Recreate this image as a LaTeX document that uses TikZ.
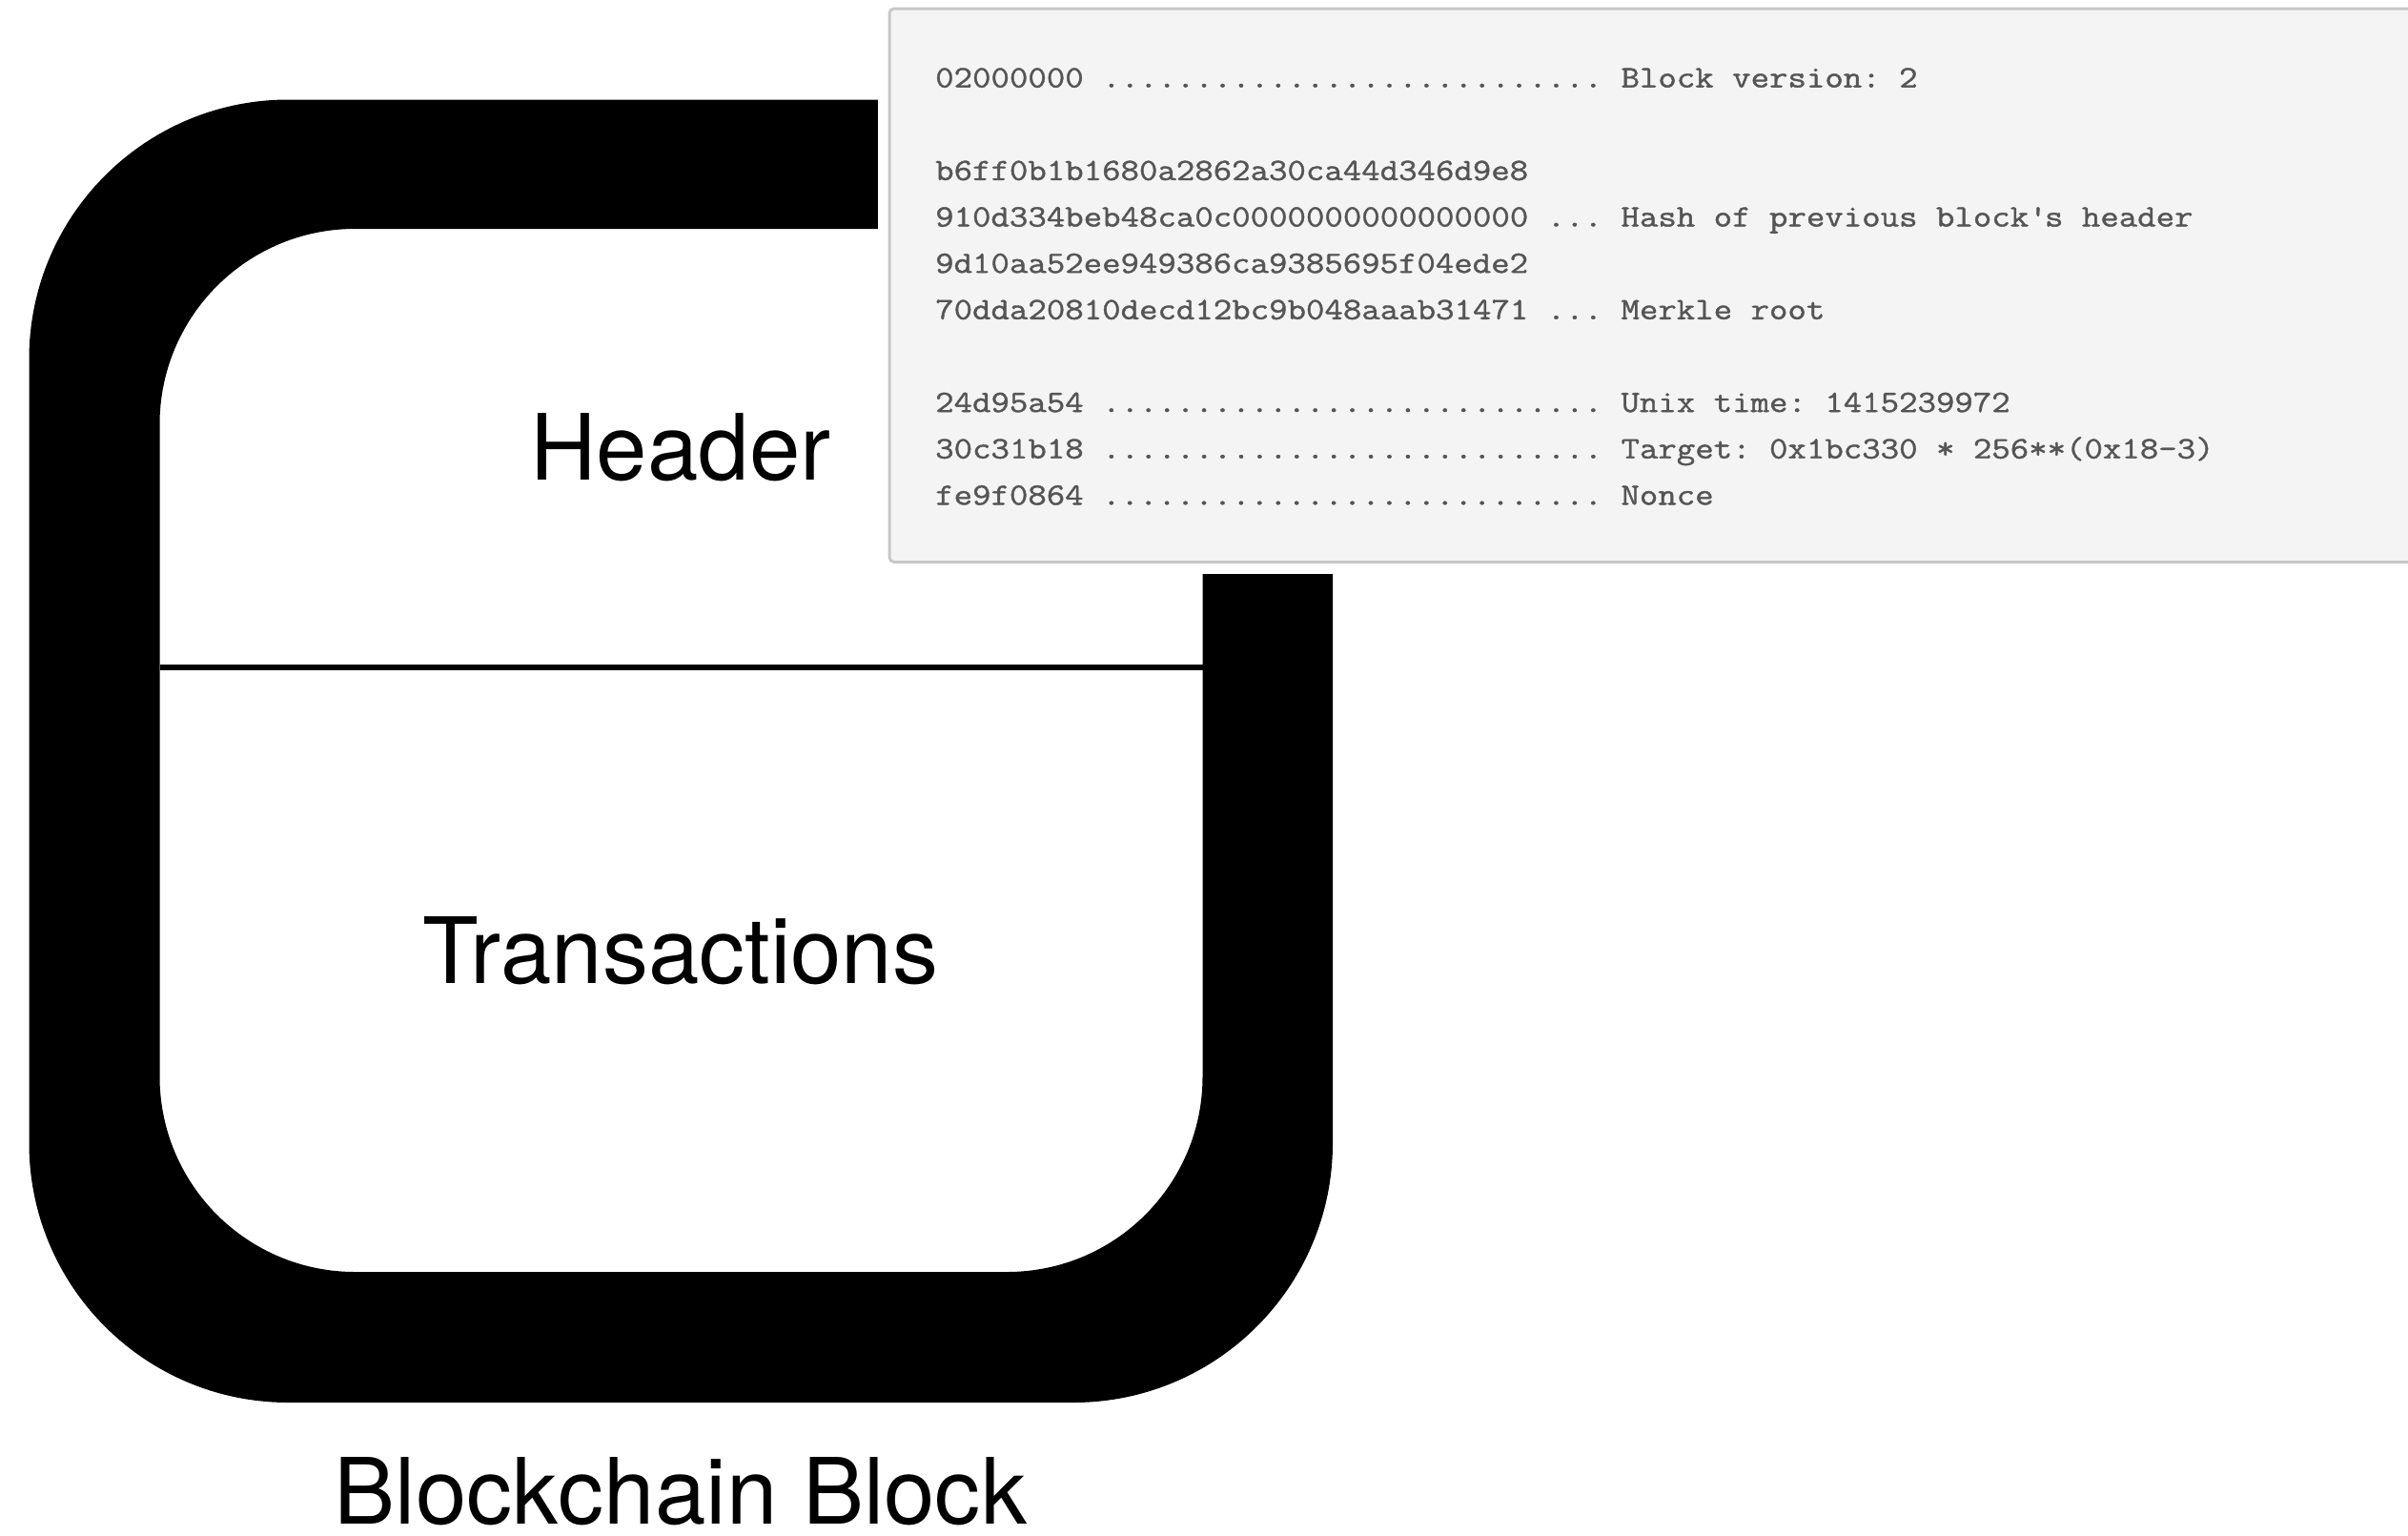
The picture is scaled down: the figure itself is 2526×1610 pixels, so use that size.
\documentclass[tikz,border=0pt]{standalone}
\usepackage{fontspec}
\setmainfont{TeX Gyre Heros}
\newfontfamily\codefont{Latin Modern Mono}[FakeStretch=1.158, FakeBold=1.2]

\definecolor{codegray}{HTML}{555555}
\definecolor{panelfill}{HTML}{F4F4F4}
\definecolor{panelline}{HTML}{C8C8C8}

\tikzset{
    big label/.style={font=\fontsize{96}{96}\selectfont, anchor=base, inner sep=0pt},
    code line/.style={font=\codefont\frenchspacing\fontsize{32.6}{40}\selectfont, text=codegray,
        anchor=base west, inner sep=0pt},
}

\begin{document}
\begin{tikzpicture}[x=1pt, y=-1pt]
    \useasboundingbox (0,0) rectangle (2526,1610);

    % the block: thick rounded frame, split in two
    \fill[even odd rule] (30.5,104.5) [rounded corners=272pt] rectangle (1398,1471)
        (167.5,240) [rounded corners=205pt] rectangle (1261.5,1334);
    \coordinate (split west) at (167.5,700);
    \coordinate (split east) at (1261.5,700);
    \draw[line width=6pt] (split west) -- (split east);

    \node[big label] (header) at (714,503) {Header};
    \node[big label] (txs) at (714,1031) {Transactions};
    \node[big label] (caption) at (714,1598) {Blockchain Block};

    % raw header dump
    \fill[white] (921,-10) rectangle (2540,602);
    \draw[panelline, fill=panelfill, line width=3pt, rounded corners=5pt] (933,9) rectangle (2560,589.5);

    \foreach \i/\txt in {
        0/{02000000 ........................... Block version: 2},
        2/{b6ff0b1b1680a2862a30ca44d346d9e8},
        3/{910d334beb48ca0c0000000000000000 ... Hash of previous block\textquotesingle s header},
        4/{9d10aa52ee949386ca9385695f04ede2},
        5/{70dda20810decd12bc9b048aaab31471 ... Merkle root},
        7/{24d95a54 ........................... Unix time: 1415239972},
        8/{30c31b18 ........................... Target: 0x1bc330 * 256**(0x18-3)},
        9/{fe9f0864 ........................... Nonce}}
        \node[code line] (line\i) at (981,91.6+48.64*\i) {\txt};
\end{tikzpicture}
\end{document}
